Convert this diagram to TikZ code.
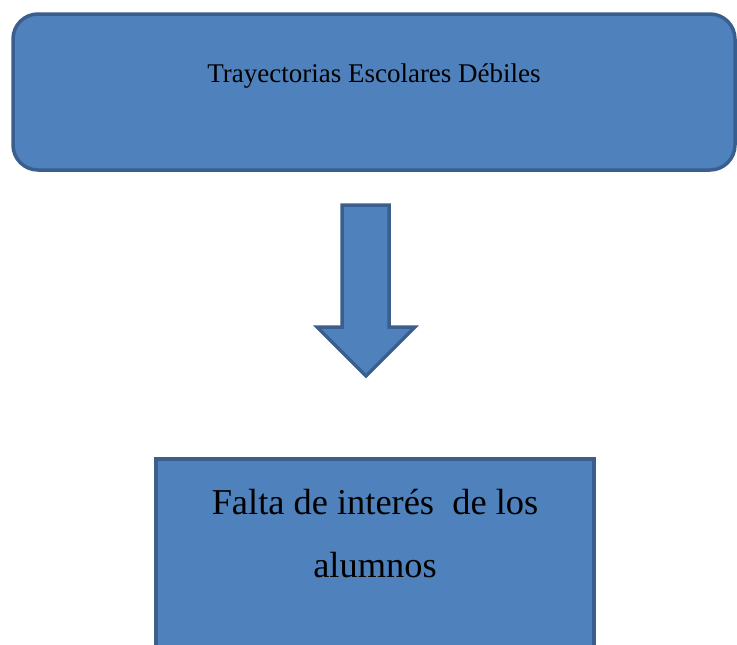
\documentclass[tikz,border=0pt]{standalone}
\usepackage{fontspec}
\setmainfont{Liberation Serif}
\definecolor{cajafondo}{HTML}{4F81BD}
\definecolor{cajaborde}{HTML}{3A5F8F}
\tikzset{
  caja/.style={draw=cajaborde, fill=cajafondo, line width=3.5pt, inner sep=0pt},
  flecha/.style={draw=cajaborde, fill=cajafondo, line width=3.5pt, line join=miter},
}
\begin{document}
\begin{tikzpicture}[x=1pt,y=-1pt]
  \clip (0,0) rectangle (737,645);
  \node[caja, rounded corners=25pt, minimum width=722pt,
        text height=68pt, text depth=88pt,
        font=\fontsize{27}{32}\selectfont]
    (trayectorias) at (374,92) {Trayectorias Escolares Débiles};
  \draw[flecha] (342,205) -- (389,205) -- (389,327) -- (415,327)
    -- (366,376) -- (317,327) -- (342,327) -- cycle;
  \node[caja, minimum width=438pt, align=center,
        text height=118pt, text depth=143pt,
        font=\fontsize{36.4}{63}\selectfont]
    (falta) at (375,589.5) {Falta de interés\ \ de los\\alumnos};
\end{tikzpicture}
\end{document}
